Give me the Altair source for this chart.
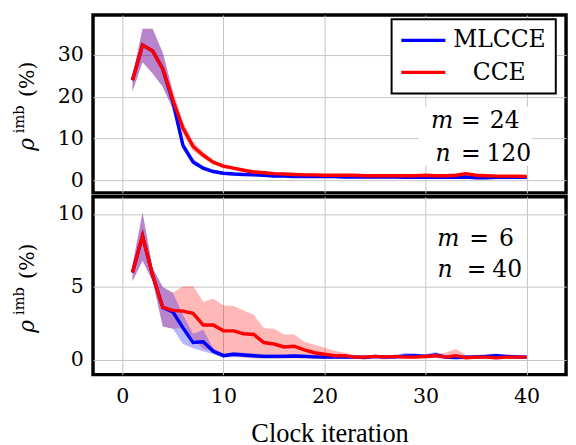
import altair as alt
import pandas as pd

iters = list(range(1, 41))
series_names = ["MLCCE", "CCE"]
series_colors = ["#0000ff", "#ff0000"]

# ---- top panel (m = 24, n = 120) ----
cce_top = [23.9, 32.3, 30.9, 26.6, 19.2, 12.5, 8.1, 6.0, 4.3, 3.4, 2.9, 2.4, 2.0, 1.8, 1.6,
           1.5, 1.4, 1.3, 1.3, 1.2, 1.2, 1.2, 1.2, 1.1, 1.1, 1.1, 1.1, 1.1, 1.1, 1.2,
           1.1, 1.1, 1.2, 1.6, 1.2, 1.1, 1.0, 1.0, 1.0, 0.9]
cce_top_hi = [24.8, 36.2, 36.2, 30.5, 21.6, 14.0, 9.2, 6.8, 4.9, 3.9, 3.3, 2.8, 2.4, 2.2, 2.0,
              1.8, 1.7, 1.6, 1.6, 1.5, 1.5, 1.5, 1.5, 1.4, 1.4, 1.4, 1.4, 1.4, 1.4, 1.5,
              1.4, 1.4, 1.5, 1.9, 1.5, 1.4, 1.3, 1.3, 1.3, 1.2]
cce_top_lo = [21.2, 28.2, 25.5, 22.3, 17.3, 11.0, 7.0, 5.2, 3.7, 2.9, 2.5, 2.0, 1.6, 1.4, 1.2,
              1.2, 1.1, 1.0, 1.0, 0.9, 0.9, 0.9, 0.9, 0.8, 0.8, 0.8, 0.8, 0.8, 0.8, 0.9,
              0.8, 0.8, 0.9, 1.3, 0.9, 0.8, 0.7, 0.7, 0.7, 0.6]
ml_top = [23.9, 32.3, 30.9, 26.6, 18.8, 8.3, 4.4, 2.9, 2.1, 1.7, 1.5, 1.4, 1.3, 1.2, 1.0,
          1.0, 0.9, 0.9, 0.9, 0.9, 0.9, 0.8, 0.8, 0.8, 0.8, 0.8, 0.8, 0.7, 0.8, 0.7,
          0.7, 0.8, 0.7, 0.8, 0.6, 0.6, 0.7, 0.7, 0.7, 0.7]
ml_top_hi = [24.8, 36.2, 36.2, 30.5, 21.0, 9.4, 5.1, 3.4, 2.5, 2.0, 1.8, 1.7, 1.6, 1.5, 1.3,
             1.3, 1.2, 1.2, 1.2, 1.2, 1.2, 1.1, 1.1, 1.1, 1.1, 1.1, 1.1, 1.0, 1.1, 1.0,
             1.0, 1.1, 1.0, 1.1, 0.9, 0.9, 1.0, 1.0, 1.0, 1.0]
ml_top_lo = [21.2, 28.2, 25.5, 22.3, 16.8, 7.3, 3.7, 2.4, 1.7, 1.3, 1.2, 1.1, 1.0, 0.9, 0.7,
             0.7, 0.6, 0.6, 0.6, 0.6, 0.6, 0.5, 0.5, 0.5, 0.5, 0.5, 0.5, 0.4, 0.5, 0.4,
             0.4, 0.5, 0.4, 0.5, 0.3, 0.3, 0.4, 0.4, 0.4, 0.4]

# ---- bottom panel (m = 6, n = 40) ----
cce_bot = [6.0, 8.5, 5.8, 3.6, 3.4, 3.35, 3.2, 2.4, 2.4, 2.0, 2.0, 1.8, 1.75, 1.2, 1.1,
           0.9, 0.95, 0.7, 0.5, 0.4, 0.3, 0.3, 0.2, 0.2, 0.25, 0.2, 0.25, 0.2, 0.2, 0.25,
           0.3, 0.2, 0.3, 0.15, 0.2, 0.2, 0.15, 0.2, 0.2, 0.2]
cce_bot_hi = [6.5, 10.1, 6.3, 5.0, 4.6, 5.05, 5.05, 4.0, 4.2, 3.75, 3.7, 3.4, 3.1, 2.2, 2.15,
              1.75, 1.75, 1.25, 1.05, 0.85, 0.63, 0.5, 0.35, 0.35, 0.35, 0.35, 0.35, 0.35, 0.35, 0.4,
              0.45, 0.5, 0.75, 0.35, 0.3, 0.3, 0.3, 0.3, 0.3, 0.3]
cce_bot_lo = [5.4, 6.8, 5.4, 2.3, 2.15, 2.2, 1.5, 0.75, 0.6, 0.4, 0.3, 0.15, 0.1, 0.1, 0.1,
              0.1, 0.1, 0.1, 0.1, 0.1, 0.1, 0.1, 0.1, 0.1, 0.1, 0.1, 0.1, 0.1, 0.1, 0.1,
              0.15, 0.1, 0.1, 0.05, 0.1, 0.1, 0.05, 0.1, 0.1, 0.1]
ml_bot = [6.0, 8.5, 5.8, 3.6, 3.3, 2.2, 1.2, 1.25, 0.6, 0.3, 0.4, 0.35, 0.3, 0.25, 0.25,
          0.25, 0.28, 0.25, 0.22, 0.2, 0.22, 0.2, 0.2, 0.18, 0.25, 0.2, 0.22, 0.28, 0.3, 0.25,
          0.35, 0.2, 0.18, 0.2, 0.22, 0.25, 0.3, 0.25, 0.22, 0.2]
ml_bot_hi = [6.5, 10.1, 6.3, 5.0, 4.6, 3.1, 1.8, 2.08, 0.8, 0.45, 0.55, 0.5, 0.45, 0.4, 0.4,
             0.4, 0.4, 0.4, 0.35, 0.35, 0.35, 0.3, 0.3, 0.3, 0.35, 0.3, 0.35, 0.5, 0.45, 0.4,
             0.55, 0.3, 0.3, 0.3, 0.35, 0.4, 0.45, 0.35, 0.35, 0.3]
ml_bot_lo = [5.4, 6.8, 5.4, 2.3, 2.15, 1.1, 0.8, 0.6, 0.4, 0.15, 0.2, 0.2, 0.15, 0.1, 0.1,
             0.1, 0.15, 0.1, 0.1, 0.08, 0.1, 0.08, 0.08, 0.08, 0.1, 0.08, 0.1, 0.12, 0.15, 0.1,
             0.15, 0.08, 0.06, 0.08, 0.1, 0.1, 0.15, 0.1, 0.1, 0.08]

x_ticks = [0, 10, 20, 30, 40]
top_ticks = [0, 10, 20, 30]
bot_ticks = [0, 5, 10]

SERIF = "DejaVu Serif"
TITLE_FONT = "Liberation Serif"
W, H = 484, 182


def frame(name, mean, lo, hi):
    return pd.DataFrame({"iter": iters, "series": name, "mean": mean, "lo": lo, "hi": hi})


def text_layer(txt, x, y, size, **kw):
    return alt.Chart(pd.DataFrame({"t": [txt]})).mark_text(
        font=SERIF, fontSize=size, color="black", **kw
    ).encode(x=alt.value(x), y=alt.value(y), text="t:N")


def rect_layer(x, x2, y, y2, **kw):
    return alt.Chart(pd.DataFrame({"t": [0]})).mark_rect(**kw).encode(
        x=alt.value(x), x2=alt.value(x2), y=alt.value(y), y2=alt.value(y2))


def rule_layer(x, x2, y, color):
    return alt.Chart(pd.DataFrame({"t": [0]})).mark_rule(color=color, strokeWidth=3.5).encode(
        x=alt.value(x), x2=alt.value(x2), y=alt.value(y), y2=alt.value(y))


def ytitle():
    return [
        text_layer("ρ", -60.5, 139, 22, angle=270, align="left", baseline="alphabetic", fontStyle="italic"),
        text_layer("imb", -70.5, 121, 15, angle=270, align="left", baseline="alphabetic"),
        text_layer("(%)", -60.5, 84, 21, angle=270, align="left", baseline="alphabetic"),
    ]


def panel(ml, cce, ydom, yticks, bottom, labels_txt):
    dfm = frame("MLCCE", *ml)
    dfc = frame("CCE", *cce)
    if bottom:
        xaxis = alt.Axis(values=x_ticks, title="Clock iteration", grid=True, ticks=False, tickSize=0,
                         domain=False, labelPadding=12, labelFont=SERIF, labelFontSize=21,
                         titleFont=TITLE_FONT, titleFontSize=27, titleFontWeight="normal",
                         titlePadding=14, labelColor="black", titleColor="black")
    else:
        xaxis = alt.Axis(values=x_ticks, title=None, grid=True, ticks=False, tickSize=0,
                         domain=False, labels=False)
    x = alt.X("iter:Q", scale=alt.Scale(domain=[-2.9, 43.9], nice=False, zero=False), axis=xaxis)
    y_axis = alt.Axis(values=yticks, title=None, grid=True, ticks=False, tickSize=0, domain=False,
                      labelPadding=10, labelFont=SERIF, labelFontSize=21, labelColor="black")

    def band(df, color):
        return alt.Chart(df).mark_area(color=color, opacity=0.28, line=False).encode(
            x=x, y=alt.Y("lo:Q", scale=alt.Scale(domain=ydom, nice=False, zero=False), axis=y_axis),
            y2="hi:Q")

    def line(df, color):
        return alt.Chart(df).mark_line(color=color, strokeWidth=3.5, strokeJoin="miter").encode(
            x=x, y=alt.Y("mean:Q", scale=alt.Scale(domain=ydom, nice=False, zero=False), axis=y_axis))

    layers = [band(dfc, series_colors[1]), band(dfm, series_colors[0]),
              line(dfm, series_colors[0]), line(dfc, series_colors[1])]
    layers += ytitle()
    layers += labels_txt
    return alt.layer(*layers).properties(width=W, height=H)


top_notes = [
    rect_layer(333.5, 449.5, 94, 154, fill="white"),
    text_layer("m", 368.5, 116, 24, align="right", baseline="alphabetic", fontStyle="italic"),
    text_layer("=", 386.5, 116, 24, align="center", baseline="alphabetic"),
    text_layer("24", 406, 116, 24, align="left", baseline="alphabetic"),
    text_layer("n", 366, 149, 24, align="right", baseline="alphabetic", fontStyle="italic"),
    text_layer("=", 386.5, 149, 24, align="center", baseline="alphabetic"),
    text_layer("120", 402.5, 149, 24, align="left", baseline="alphabetic"),
    # legend
    rect_layer(305.5, 473.5, 4.3, 80.3, fill="white", stroke="black", strokeWidth=2),
    rule_layer(315.5, 360.5, 26, series_colors[0]),
    rule_layer(315.5, 360.5, 58.7, series_colors[1]),
    text_layer(series_names[0], 368.5, 33, 24, align="left", baseline="alphabetic"),
    text_layer(series_names[1], 388.5, 66, 24, align="left", baseline="alphabetic"),
]

bot_notes = [
    rect_layer(349.5, 433.5, 28, 90, fill="white"),
    text_layer("m", 375, 50, 24, align="right", baseline="alphabetic", fontStyle="italic"),
    text_layer("=", 395, 50, 24, align="center", baseline="alphabetic"),
    text_layer("6", 415.5, 50, 24, align="left", baseline="alphabetic"),
    text_layer("n", 368, 82, 24, align="right", baseline="alphabetic", fontStyle="italic"),
    text_layer("=", 392.5, 82, 24, align="center", baseline="alphabetic"),
    text_layer("40", 408.5, 82, 24, align="left", baseline="alphabetic"),
]

top = panel((ml_top, ml_top_lo, ml_top_hi), (cce_top, cce_top_lo, cce_top_hi),
            [-3.0, 39.5], top_ticks, False, top_notes)
bot = panel((ml_bot, ml_bot_lo, ml_bot_hi), (cce_bot, cce_bot_lo, cce_bot_hi),
            [-1.0, 11.18], bot_ticks, True, bot_notes)

chart = alt.vconcat(top, bot, spacing=0).resolve_scale(y="independent").configure_view(
    stroke="black", strokeWidth=3.5
).configure_axis(
    gridColor="#c4c4c4", gridWidth=1, gridOpacity=1
).properties(
    padding={"left": 2, "top": 0, "right": 0, "bottom": 0}
)

chart.save("out.html", embed_options={"renderer": "svg", "actions": False})
